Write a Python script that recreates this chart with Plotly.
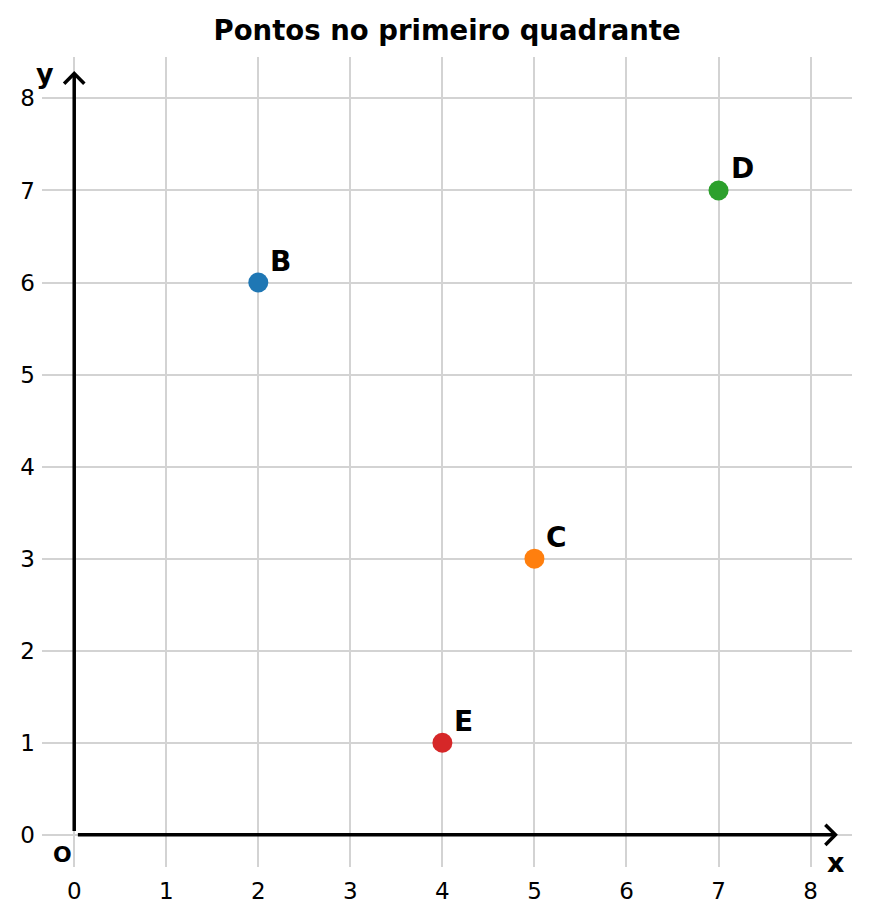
import plotly.graph_objects as go

# Points in the first quadrant
names = ["B", "C", "D", "E"]
xs = [2, 5, 7, 4]
ys = [6, 3, 7, 1]
colors = ["#1f77b4", "#ff7f0e", "#2ca02c", "#d62728"]
ticks = list(range(0, 9))

fig = go.Figure()

fig.add_trace(go.Scatter(
    x=xs, y=ys, mode="markers",
    marker=dict(size=20, color=colors),
    showlegend=False, hoverinfo="text", text=names,
))

# point labels
for n, x, y in zip(names, xs, ys):
    fig.add_annotation(
        x=x, y=y, text="<b>%s</b>" % n, showarrow=False,
        xanchor="left", yanchor="bottom", xshift=10, yshift=3,
        font=dict(size=28, color="black"),
    )

# axis arrows with open heads, like matplotlib '->'
start, end, head = 0.04, 8.27, 0.11
fig.add_shape(type="line", x0=start, y0=0, x1=end, y1=0,
              line=dict(color="black", width=3.5))
fig.add_shape(type="line", x0=0, y0=start, x1=0, y1=end,
              line=dict(color="black", width=3.5))
fig.add_shape(type="path",
              path="M %f,%f L %f,0 L %f,%f" % (end - head, head, end, end - head, -head),
              line=dict(color="black", width=3.5))
fig.add_shape(type="path",
              path="M %f,%f L 0,%f L %f,%f" % (-head, end - head, end, head, end - head),
              line=dict(color="black", width=3.5))

# axis names and origin
fig.add_annotation(x=end, y=0, text="<b>x</b>", showarrow=False,
                   xanchor="left", yanchor="top", xshift=-10, yshift=-10,
                   font=dict(size=27, color="black"))
fig.add_annotation(x=0, y=end, text="<b>y</b>", showarrow=False,
                   xanchor="right", yanchor="middle", xshift=-18, yshift=0,
                   font=dict(size=27, color="black"))
fig.add_annotation(x=0, y=0, text="<b>O</b>", showarrow=False,
                   xanchor="right", yanchor="top", xshift=0, yshift=-5,
                   font=dict(size=22, color="black"))

axis_style = dict(
    range=[-0.35, 8.45], tickvals=ticks, showgrid=True,
    gridcolor="#d3d3d3", gridwidth=1.5, zeroline=False, showline=False,
    tickfont=dict(size=23, color="black"), ticklabelstandoff=8,
)
fig.update_xaxes(**axis_style)
fig.update_yaxes(**axis_style)
fig.update_yaxes(ticklabelstandoff=6)

# page body adds an 8px margin, so the figure is 8px smaller
fig.update_layout(
    width=861, height=909,
    margin=dict(l=30, r=17, t=49, b=50),
    plot_bgcolor="white", paper_bgcolor="white",
    font=dict(family="DejaVu Sans", color="black"),
    title=dict(text="<b>Pontos no primeiro quadrante</b>", x=0.51, xanchor="center",
               y=0.975, yanchor="middle", font=dict(size=27.5)),
)

fig.write_html("out.html")
